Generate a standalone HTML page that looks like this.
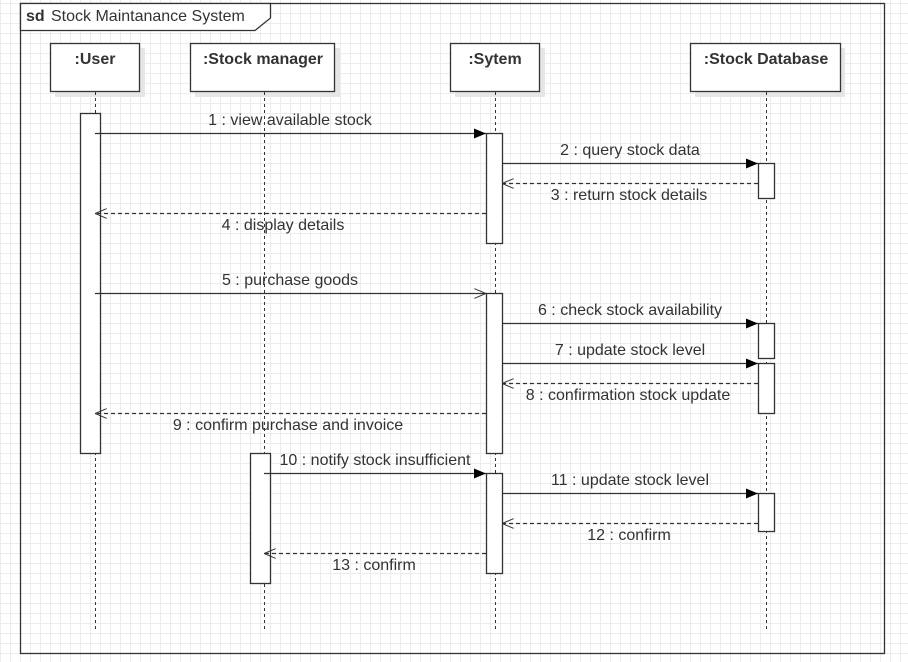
<!DOCTYPE html>
<html><head><style>
body{margin:0;width:908px;height:662px;overflow:hidden;background:#fff;
background-image:linear-gradient(#ececec 1px,transparent 1px),linear-gradient(90deg,#ececec 1px,transparent 1px);background-size:10px 10px;background-position:0 3px}
svg{position:absolute;left:0;top:0}
text{font-family:"Liberation Sans",sans-serif;font-size:16px;fill:#333}
</style></head><body>
<svg width="908" height="662">
<defs>
<marker id="f" markerWidth="12" markerHeight="10" refX="12" refY="5" orient="auto" markerUnits="userSpaceOnUse"><path d="M0,0 L12,5 L0,10Z" fill="#000"/></marker>
<marker id="o" markerWidth="12" markerHeight="10" refX="12" refY="5" orient="auto" markerUnits="userSpaceOnUse"><path d="M0,0 L12,5 L0,10" fill="none" stroke="#333"/></marker>
</defs>
<rect x="20.5" y="3.5" width="864" height="650" fill="none" stroke="#333" stroke-width="1.3"/>
<path d="M20.5,3.5 H270.5 V18 L255,30.5 H20.5Z" fill="#fff" stroke="#333" stroke-width="1.3"/>
<text x="26" y="21" font-weight="bold">sd</text><text x="51" y="21">Stock Maintanance System</text>
<g fill="#e6e6e6"><rect x="55" y="48" width="90" height="49"/><rect x="195" y="48" width="145" height="49"/><rect x="455" y="48" width="90" height="49"/><rect x="695" y="48" width="150" height="49"/></g>
<g fill="#fff" stroke="#333" stroke-width="1.3"><rect x="50.5" y="43.5" width="89" height="48"/><rect x="190.5" y="43.5" width="144" height="48"/><rect x="450.5" y="43.5" width="89" height="48"/><rect x="690.5" y="43.5" width="150" height="48"/></g>
<g text-anchor="middle"><text x="95" y="64" style="font-weight:bold">:User</text><text x="263" y="64" style="font-weight:bold">:Stock manager</text><text x="495" y="64" style="font-weight:bold">:Sytem</text><text x="766" y="64" style="font-weight:bold">:Stock Database</text></g>
<g stroke="#333" stroke-dasharray="3,3"><line x1="95.5" y1="92" x2="95.5" y2="630"/><line x1="264.5" y1="92" x2="264.5" y2="630"/><line x1="495.5" y1="92" x2="495.5" y2="630"/><line x1="766.5" y1="92" x2="766.5" y2="630"/></g>
<g fill="#fff" stroke="#333" stroke-width="1.3"><rect x="80.5" y="113.5" width="20" height="340"/><rect x="250.5" y="453.5" width="20" height="130"/>
<rect x="486.5" y="133.5" width="16" height="110"/><rect x="486.5" y="293.5" width="16" height="160"/><rect x="486.5" y="473.5" width="16" height="100"/>
<rect x="758.5" y="163.5" width="16" height="35"/><rect x="758.5" y="323.5" width="16" height="35"/><rect x="758.5" y="363.5" width="16" height="50"/><rect x="758.5" y="493.5" width="16" height="38"/></g>
<g stroke="#333" fill="none" stroke-width="1.3">
<line x1="95" y1="133.5" x2="486" y2="133.5" marker-end="url(#f)"/>
<line x1="502" y1="163.5" x2="758" y2="163.5" marker-end="url(#f)"/>
<line x1="758" y1="183.5" x2="502" y2="183.5" stroke-dasharray="4,3" marker-end="url(#o)"/>
<line x1="486" y1="213.5" x2="95" y2="213.5" stroke-dasharray="4,3" marker-end="url(#o)"/>
<line x1="95" y1="293.5" x2="486" y2="293.5" marker-end="url(#o)"/>
<line x1="502" y1="323.5" x2="758" y2="323.5" marker-end="url(#f)"/>
<line x1="502" y1="363.5" x2="758" y2="363.5" marker-end="url(#f)"/>
<line x1="758" y1="383.5" x2="502" y2="383.5" stroke-dasharray="4,3" marker-end="url(#o)"/>
<line x1="486" y1="413.5" x2="95" y2="413.5" stroke-dasharray="4,3" marker-end="url(#o)"/>
<line x1="264" y1="473.5" x2="486" y2="473.5" marker-end="url(#f)"/>
<line x1="502" y1="493.5" x2="758" y2="493.5" marker-end="url(#f)"/>
<line x1="758" y1="523.5" x2="502" y2="523.5" stroke-dasharray="4,3" marker-end="url(#o)"/>
<line x1="486" y1="553.5" x2="264" y2="553.5" stroke-dasharray="4,3" marker-end="url(#o)"/>
</g>
<g text-anchor="middle">
<text x="290" y="125">1 : view available stock</text>
<text x="630" y="155">2 : query stock data</text>
<text x="629" y="200">3 : return stock details</text>
<text x="283" y="230">4 : display details</text>
<text x="290" y="285">5 : purchase goods</text>
<text x="630" y="315">6 : check stock availability</text>
<text x="630" y="355">7 : update stock level</text>
<text x="628" y="400">8 : confirmation stock update</text>
<text x="288" y="430">9 : confirm purchase and invoice</text>
<text x="375" y="465">10 : notify stock insufficient</text>
<text x="630" y="485">11 : update stock level</text>
<text x="629" y="540">12 : confirm</text>
<text x="374" y="570">13 : confirm</text>
</g>
</svg>
</body></html>
